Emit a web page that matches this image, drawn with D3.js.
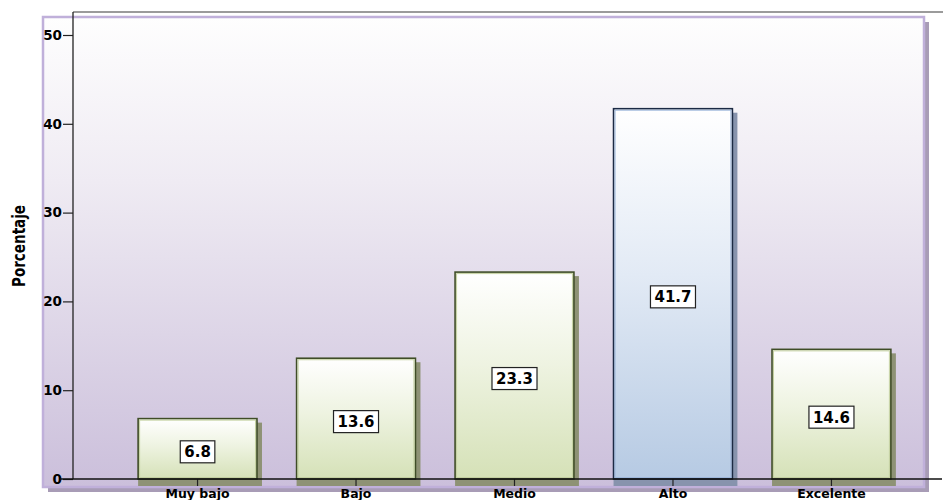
<!DOCTYPE html>
<html>
<head>
<meta charset="utf-8">
<script src="https://cdn.jsdelivr.net/npm/d3@7"></script>
<style>
  html, body { margin: 0; padding: 0; background: #ffffff; }
  svg { display: block; }
  text { font-family: "DejaVu Sans", Verdana, sans-serif; font-weight: bold; fill: #000; }
</style>
</head>
<body>
<svg id="chart" width="943" height="500"></svg>
<script>
// Categories and percentages
const categories = ["Muy bajo", "Bajo", "Medio", "Alto", "Excelente"];
const values = [6.8, 13.6, 23.3, 41.7, 14.6];
const highlighted = ["Alto"];
const yTicks = [0, 10, 20, 30, 40, 50];
const yTitle = "Porcentaje";

const svg = d3.select("#chart");
const FONT = "\"DejaVu Sans\", Verdana, sans-serif";

const plot = { left: 73, right: 943, top: 12, bottom: 479 };
const panel = { x0: 43, x1: 924, y0: 17, y1: 487 };

const y = d3.scaleLinear().domain([0, 50]).range([plot.bottom, 35]);
const x = d3.scaleBand().domain(categories).range([98.5, 930.5]).paddingInner(0.25).paddingOuter(0.25);

const defs = svg.append("defs");
function vgrad(id, stops) {
  const g = defs.append("linearGradient").attr("id", id)
    .attr("x1", 0).attr("y1", 0).attr("x2", 0).attr("y2", 1);
  stops.forEach(([o, c]) => g.append("stop").attr("offset", o).attr("stop-color", c));
}
vgrad("bgGrad", [[0, "#fefefe"], [0.35, "#efebf3"], [1, "#cbbfdb"]]);
vgrad("greenGrad", [[0, "#ffffff"], [0.45, "#eef3e1"], [1, "#d5e1b7"]]);
vgrad("blueGrad", [[0, "#ffffff"], [0.45, "#e2eaf5"], [1, "#b6cae3"]]);

// Background panel with its drop shadow
svg.append("rect")
  .attr("x", panel.x0 + 5).attr("y", panel.y0 + 5)
  .attr("width", panel.x1 - panel.x0).attr("height", panel.y1 - panel.y0)
  .attr("fill", "#a89cb6");
svg.append("rect")
  .attr("x", panel.x0).attr("y", panel.y0)
  .attr("width", panel.x1 - panel.x0).attr("height", panel.y1 - panel.y0)
  .attr("fill", "url(#bgGrad)")
  .attr("stroke", "#c0b0da").attr("stroke-width", 2.5);

// Bars with offset shadows
const bars = svg.append("g");
categories.forEach((c, i) => {
  const v = values[i];
  const isHi = highlighted.includes(c);
  const bx = x(c), bw = x.bandwidth(), by = y(v);
  bars.append("rect")
    .attr("x", bx).attr("y", by + 4)
    .attr("width", bw + 5).attr("height", plot.bottom + 7 - (by + 4))
    .attr("fill", isHi ? "#8793ad" : "#8e9275");
  bars.append("rect")
    .attr("x", bx).attr("y", by)
    .attr("width", bw).attr("height", plot.bottom - by)
    .attr("fill", isHi ? "url(#blueGrad)" : "url(#greenGrad)")
    .attr("stroke", isHi ? "#1c2a44" : "#3f4d27").attr("stroke-width", 1.6);
  bars.append("rect")
    .attr("x", bx + 1.5).attr("y", by + 1.5)
    .attr("width", bw - 3).attr("height", plot.bottom - by - 3)
    .attr("fill", "none")
    .attr("stroke", isHi ? "#9fb8dc" : "#c3d0a0").attr("stroke-width", 1);
});

// Top frame line and axes
svg.append("line")
  .attr("x1", plot.left).attr("x2", plot.right)
  .attr("y1", plot.top).attr("y2", plot.top)
  .attr("stroke", "#7a7a7a").attr("stroke-width", 1.6);

const yAxis = svg.append("g")
  .attr("transform", `translate(${plot.left},0)`)
  .call(d3.axisLeft(y).tickValues(yTicks).tickSize(10).tickPadding(1).tickFormat(d3.format("d")));
yAxis.select(".domain").remove();
yAxis.selectAll(".tick line").attr("stroke", "#222").attr("stroke-width", 1.2);
yAxis.selectAll(".tick text").attr("font-size", 13.5).attr("font-weight", "bold")
  .attr("font-family", FONT).attr("fill", "#000");
svg.append("line")
  .attr("x1", plot.left).attr("x2", plot.left)
  .attr("y1", plot.top).attr("y2", plot.bottom)
  .attr("stroke", "#222").attr("stroke-width", 1.3);

const xAxis = svg.append("g")
  .attr("transform", `translate(0,${plot.bottom})`)
  .call(d3.axisBottom(x).tickSize(7).tickPadding(3));
xAxis.select(".domain").remove();
xAxis.selectAll(".tick line").attr("stroke", "#222").attr("stroke-width", 1.2);
xAxis.selectAll(".tick text").attr("font-size", 12.5).attr("font-weight", "bold")
  .attr("font-family", FONT).attr("fill", "#000").attr("dy", "0.7em");
svg.append("line")
  .attr("x1", 60).attr("x2", plot.right - 1)
  .attr("y1", plot.bottom).attr("y2", plot.bottom)
  .attr("stroke", "#111").attr("stroke-width", 1.4);

// Value labels in white boxes
const labels = svg.append("g");
categories.forEach((c, i) => {
  const v = values[i];
  const cx = x(c) + x.bandwidth() / 2;
  const cy = (y(v) + plot.bottom) / 2 + 3;
  const t = labels.append("text")
    .attr("x", cx).attr("y", cy + 5.5)
    .attr("text-anchor", "middle")
    .attr("font-size", 15)
    .text(d3.format(".1f")(v));
  const tw = t.node().getComputedTextLength();
  labels.insert("rect", "text")
    .attr("x", cx - tw / 2 - 4).attr("y", cy - 11)
    .attr("width", tw + 8).attr("height", 22)
    .attr("fill", "#ffffff").attr("stroke", "#222").attr("stroke-width", 1.2);
});

// Y axis title
svg.append("text")
  .attr("transform", `translate(25,246) rotate(-90)`)
  .attr("text-anchor", "middle")
  .attr("font-family", "\"Liberation Sans\", Arial, sans-serif")
  .attr("font-size", 18)
  .attr("textLength", 82).attr("lengthAdjust", "spacingAndGlyphs")
  .text(yTitle);
</script>
</body>
</html>
